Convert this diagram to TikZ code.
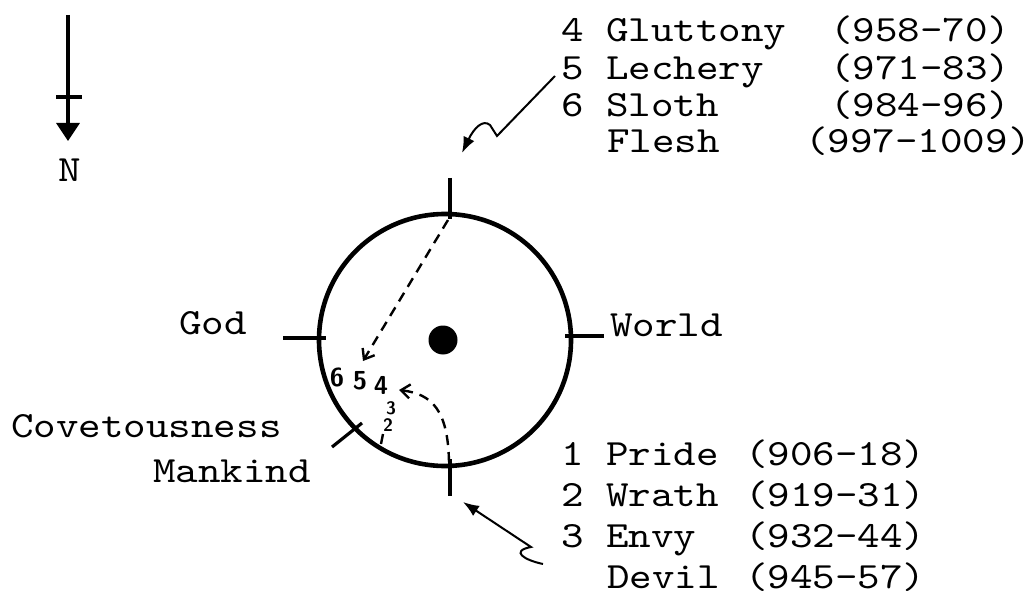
\documentclass[tikz,border=0pt]{standalone}
\usepackage{fontspec}
\usetikzlibrary{arrows.meta,calc}
\newfontfamily\typewriter[FakeStretch=1.16]{lmmono10-regular.otf}
\newcommand{\tw}{\typewriter\fontsize{37}{40}\selectfont}
\newcommand{\hand}{\sffamily\bfseries\fontsize{26}{26}\selectfont}
\newcommand{\handsmall}{\sffamily\bfseries\fontsize{18}{18}\selectfont}

\begin{document}
\begin{tikzpicture}[x=1pt,y=-1pt,
    lbl/.style={anchor=base west,inner sep=0pt,font=\tw},
    rimno/.style={inner sep=0pt,font=\hand},
    rimtick/.style={line width=3.8pt},
    route/.style={line width=2.4pt,dash pattern=on 10pt off 7pt,-{Straight Barb[length=9pt,width=14pt]}},
    pointer/.style={line width=2pt,-{Latex[length=16pt,width=12pt]}}]
    \useasboundingbox (0,0) rectangle (1034,599);
    % compass
    \coordinate (ntop) at (68,15);
    \coordinate (nend) at (68,141);
    \draw[line width=3.4pt,-{Triangle[length=18pt,width=23pt]}] (ntop) -- (nend);
    \draw[line width=3.4pt] (56,97) -- (82,97);
    \node[anchor=base,inner sep=0pt,font=\tw] (north) at (70,182) {N};
    % the round
    \node[circle,draw,line width=4.6pt,minimum size=252pt,inner sep=0pt] (ring) at (445,340) {};
    \node[circle,fill,minimum size=29pt,inner sep=0pt] (centre) at (443,340) {};
    \draw[rimtick] (450,178) -- (450,219);
    \draw[rimtick] (450,459) -- (450,496);
    \draw[rimtick] (283,338) -- (326,338);
    \draw[rimtick] (565,336) -- (604,336);
    \draw[line width=3.2pt] (332,447) -- (362,423);
    % scaffolds
    \node[lbl] (god) at (179,334) {God};
    \node[lbl] (world) at (610,336) {World};
    \node[lbl] (covet) at (11,437) {Covetousness};
    \node[lbl] (mankind) at (153,482) {Mankind};
    % north-east group
    \node[lbl] (glut) at (561,42) {4 Gluttony};
    \node[lbl] (glutyr) at (830,42) {(958-70)};
    \node[lbl] (lech) at (561,80) {5 Lechery};
    \node[lbl] (lechyr) at (830,80) {(971-83)};
    \node[lbl] (sloth) at (561,117) {6 Sloth};
    \node[lbl] (slothyr) at (830,117) {(984-96)};
    \node[lbl] (flesh) at (607,153) {Flesh};
    \node[lbl] (fleshyr) at (805,153) {(997-1009)};
    % south-east group
    \node[lbl] (pride) at (561,465) {1 Pride};
    \node[lbl] (prideyr) at (745,465) {(906-18)};
    \node[lbl] (wrath) at (561,506) {2 Wrath};
    \node[lbl] (wrathyr) at (745,506) {(919-31)};
    \node[lbl] (envy) at (561,547) {3 Envy};
    \node[lbl] (envyyr) at (745,547) {(932-44)};
    \node[lbl] (devil) at (607,588) {Devil};
    \node[lbl] (devilyr) at (745,588) {(945-57)};
    % stations on the rim
    \node[rimno] (m6) at (337,377) {6};
    \node[rimno] (m5) at (360,381) {5};
    \node[rimno] (m4) at (381,385) {4};
    \node[rimno,font=\handsmall] (m3) at (391,408) {3};
    \node[rimno,font=\handsmall] (m2) at (388,425) {2};
    \draw[line width=2.4pt] (383,434) -- (381,444);
    % movements
    \coordinate (fleshgate) at (448,220);
    \coordinate (fleshstop) at (363,361);
    \coordinate (devilgate) at (449,462);
    \coordinate (devilstop) at (399,390);
    \draw[route] (fleshgate) -- (fleshstop);
    \draw[route] (devilgate) .. controls (448,410) and (432,394) .. (devilstop);
    % pointers from the lists
    \coordinate (upfrom) at (555,76);
    \coordinate (uptip) at (462,153);
    \draw[pointer] (upfrom) -- (497,136) -- (490,125) .. controls (483,119) and (474,128) .. (uptip);
    \coordinate (lowfrom) at (543,564);
    \coordinate (lowtip) at (463,502);
    \draw[pointer] (lowfrom) .. controls (524,560) and (510,551) .. (531,547) -- (lowtip);
  \end{tikzpicture}
\end{document}
